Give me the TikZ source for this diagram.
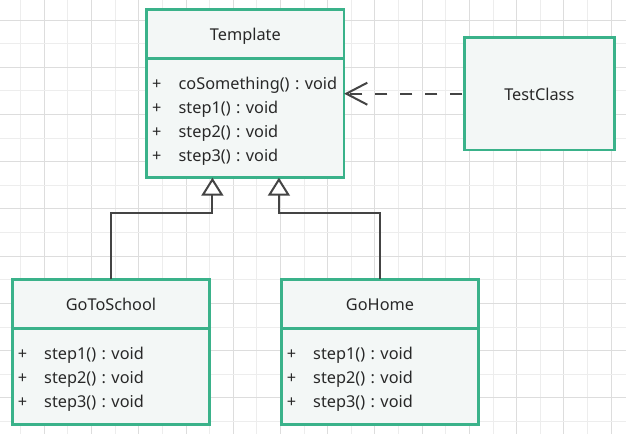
\documentclass[tikz,border=0pt]{standalone}
\usepackage{fontspec}
\setmainfont{Noto Sans}
\usepackage{xcolor}
\usepackage{tikz}
\usetikzlibrary{arrows.meta,positioning}

\definecolor{umlgreen}{RGB}{58,178,138}
\definecolor{umlfill}{RGB}{243,247,246}
\definecolor{umltext}{RGB}{40,40,40}
\definecolor{umlline}{RGB}{68,68,68}
\definecolor{gridminor}{RGB}{237,237,237}
\definecolor{gridmajor}{RGB}{221,221,221}

\newcommand{\umlop}[1]{\rule[-4pt]{0pt}{17pt}\makebox[26.5pt][l]{+}#1}
\frenchspacing

\begin{document}
\begin{tikzpicture}[
  x=1pt, y=-1pt,
  font=\fontsize{16.3}{24.1}\selectfont,
  minorline/.style={gridminor, line width=1pt},
  majorline/.style={gridmajor, line width=1pt},
  classhead/.style={draw=umlgreen, line width=2.6pt, fill=umlfill, text=umltext, minimum width=197.5pt, minimum height=49pt, inner sep=0pt, outer sep=0pt, text height=16pt, text depth=2pt},
  classbody/.style={draw=umlgreen, line width=2.6pt, fill=umlfill, text=umltext, text width=186.5pt, align=left, inner xsep=5.5pt, inner ysep=0pt, outer sep=0pt, minimum height=#1, execute at begin node={\rule{0pt}{19pt}}},
  inherit/.style={-{Triangle[length=18pt, width=22pt, fill=white]}, umlline, line width=2pt},
  depend/.style={-{Straight Barb[length=21pt, width=22pt]}, umlline, line width=2pt, dash pattern=on 12.5pt off 12.5pt, dash phase=23pt}
]
\fill[white] (0,0) rectangle (626,434);
\useasboundingbox (0,0) rectangle (626,434);
% grid
\foreach \i in {0,...,12} {
  \draw[minorline] ({20.7+47.24*\i},0) -- ++(0,434);
  \draw[majorline] ({44.3+47.24*\i},0) -- ++(0,434);
}
\foreach \i in {0,...,8} {
  \draw[minorline] (0,{43.6+47.24*\i}) -- ++(626,0);
  \draw[majorline] (0,{20+47.24*\i}) -- ++(626,0);
}
% classes
\node[classhead] (tpl) at (245.4,33.8) {Template};
\node[classbody=119.4pt, below=0pt of tpl] (tplm) {\umlop{coSomething() : void}\\\umlop{step1() : void}\\\umlop{step2() : void}\\\umlop{step3() : void}};
\node[classhead] (gs) at (111,303.8) {GoToSchool};
\node[classbody=96pt, below=0pt of gs] (gsm) {\umlop{step1() : void}\\\umlop{step2() : void}\\\umlop{step3() : void}};
\node[classhead] (gh) at (380,303.8) {GoHome};
\node[classbody=96pt, below=0pt of gh] (ghm) {\umlop{step1() : void}\\\umlop{step2() : void}\\\umlop{step3() : void}};
\node[classhead, minimum width=150pt, minimum height=112.7pt] (tc) at (539.3,93.7) {TestClass};
% relations
\draw[inherit] (gs.north) -- ++(0,-66.5) -| ([xshift=-33pt]tplm.south);
\draw[inherit] (gh.north) -- ++(0,-66.5) -| ([xshift=33.5pt]tplm.south);
\draw[depend] (tc.west) -- (tc.west -| tplm.east);
\end{tikzpicture}
\end{document}
